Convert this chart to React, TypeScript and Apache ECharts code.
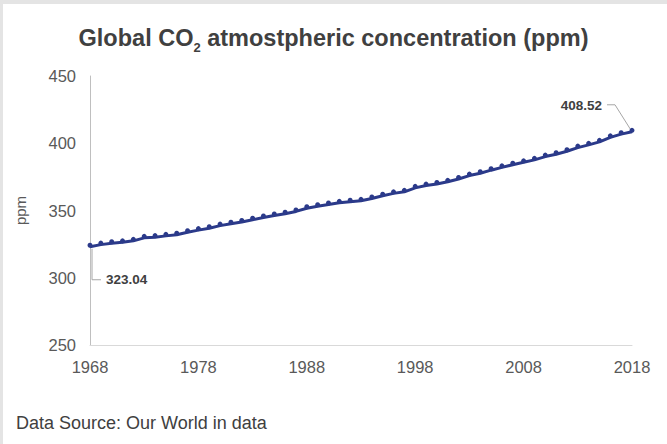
import React, { useEffect, useRef } from "react";
import * as echarts from "echarts";

const years: string[] = [
  "1968","1969","1970","1971","1972","1973","1974","1975","1976","1977",
  "1978","1979","1980","1981","1982","1983","1984","1985","1986","1987",
  "1988","1989","1990","1991","1992","1993","1994","1995","1996","1997",
  "1998","1999","2000","2001","2002","2003","2004","2005","2006","2007",
  "2008","2009","2010","2011","2012","2013","2014","2015","2016","2017","2018",
];
const co2: number[] = [
  323.04, 324.62, 325.68, 326.32, 327.45, 329.68, 330.19, 331.13, 332.03, 333.84,
  335.41, 336.84, 338.76, 340.12, 341.48, 343.15, 344.85, 346.35, 347.61, 349.31,
  351.69, 353.2, 354.45, 355.7, 356.54, 357.21, 358.96, 360.97, 362.74, 363.88,
  366.84, 368.54, 369.71, 371.32, 373.45, 375.98, 377.7, 379.98, 382.09, 384.02,
  385.83, 387.64, 390.1, 391.85, 394.06, 396.74, 398.81, 401.01, 404.41, 406.76, 408.52,
];
const yTicks = { min: 250, max: 450, interval: 50 };
const titleText = "{a|Global CO}{s|2}{a| atmostpheric concentration (ppm)}";
const sourceText = "Data Source: Our World in data";
const yName = "ppm";

const FONT = "'Liberation Sans', Arial, sans-serif";

export default function App() {
  const ref = useRef<HTMLDivElement>(null);
  useEffect(() => {
    document.body.style.margin = "0";
    if (!ref.current) return;
    const chart = echarts.init(ref.current, null, { renderer: "svg" });
    const navy = "#2b3a8a";
    chart.setOption({
      animation: false,
      backgroundColor: "#ffffff",
      title: {
        text: titleText,
        left: "center",
        top: 17,
        textStyle: {
          rich: {
            a: { fontFamily: FONT, fontWeight: "bold", fontSize: 23.5, color: "#404040", lineHeight: 32 },
            s: { fontFamily: FONT, fontWeight: "bold", fontSize: 13, color: "#404040", lineHeight: 13, verticalAlign: "bottom" },
          },
        },
      },
      grid: { left: 90, right: 35, top: 76, bottom: 99, containLabel: false },
      xAxis: {
        type: "category",
        data: years,
        boundaryGap: false,
        axisLine: { show: true, lineStyle: { color: "#d9d9d9", width: 1 } },
        axisTick: { show: false },
        axisLabel: { interval: 9, fontFamily: FONT, fontSize: 16.5, color: "#595959", margin: 13 },
        splitLine: { show: false },
      },
      yAxis: {
        type: "value",
        min: yTicks.min,
        max: yTicks.max,
        interval: yTicks.interval,
        name: yName,
        nameLocation: "middle",
        nameRotate: 90,
        nameGap: 62,
        nameTextStyle: { fontFamily: FONT, fontSize: 15, color: "#595959" },
        axisLine: { show: true, lineStyle: { color: "#bfbfbf", width: 1 } },
        axisTick: { show: false },
        axisLabel: { fontFamily: FONT, fontSize: 16.5, color: "#595959", margin: 14 },
        splitLine: { show: false },
      },
      series: [
        {
          type: "line",
          data: co2,
          symbol: "circle",
          symbolSize: 5,
          symbolOffset: [0, -1.5],
          showAllSymbol: true,
          lineStyle: { color: navy, width: 3 },
          itemStyle: { color: navy },
        },
      ],
    });

    const first = chart.convertToPixel({ xAxisIndex: 0, yAxisIndex: 0 }, [0, co2[0]]) as number[];
    const lastIdx = co2.length - 1;
    const last = chart.convertToPixel({ xAxisIndex: 0, yAxisIndex: 0 }, [lastIdx, co2[lastIdx]]) as number[];
    const lead = { stroke: "#a6a6a6", lineWidth: 1, fill: null };
    const lbl = { fontFamily: FONT, fontWeight: "bold", fontSize: 13.5, fill: "#404040" };

    chart.setOption({
      graphic: [
        { type: "rect", shape: { x: 0, y: 0, width: 667, height: 4 }, style: { fill: "#e4e4e4" }, silent: true },
        { type: "rect", shape: { x: 0, y: 0, width: 3, height: 444 }, style: { fill: "#e4e4e4" }, silent: true },
        {
          type: "polyline",
          shape: { points: [[first[0] + 2, first[1] + 2], [first[0] + 2, first[1] + 33], [first[0] + 11, first[1] + 33]] },
          style: lead,
          silent: true,
        },
        {
          type: "text",
          x: first[0] + 16,
          y: first[1] + 33,
          style: { ...lbl, text: co2[0].toFixed(2), align: "left", verticalAlign: "middle" },
        },
        {
          type: "polyline",
          shape: { points: [[last[0] - 25, last[1] - 27], [last[0] - 17, last[1] - 27], [last[0], last[1]]] },
          style: lead,
          silent: true,
        },
        {
          type: "text",
          x: last[0] - 30,
          y: last[1] - 26,
          style: { ...lbl, text: co2[lastIdx].toFixed(2), align: "right", verticalAlign: "middle" },
        },
        {
          type: "text",
          x: 16,
          y: 423,
          style: { text: sourceText, fontFamily: FONT, fontSize: 18, fill: "#404040", align: "left", verticalAlign: "middle" },
        },
      ],
    });
    return () => chart.dispose();
  }, []);
  return <div ref={ref} style={{ width: 667, height: 444 }} />;
}
